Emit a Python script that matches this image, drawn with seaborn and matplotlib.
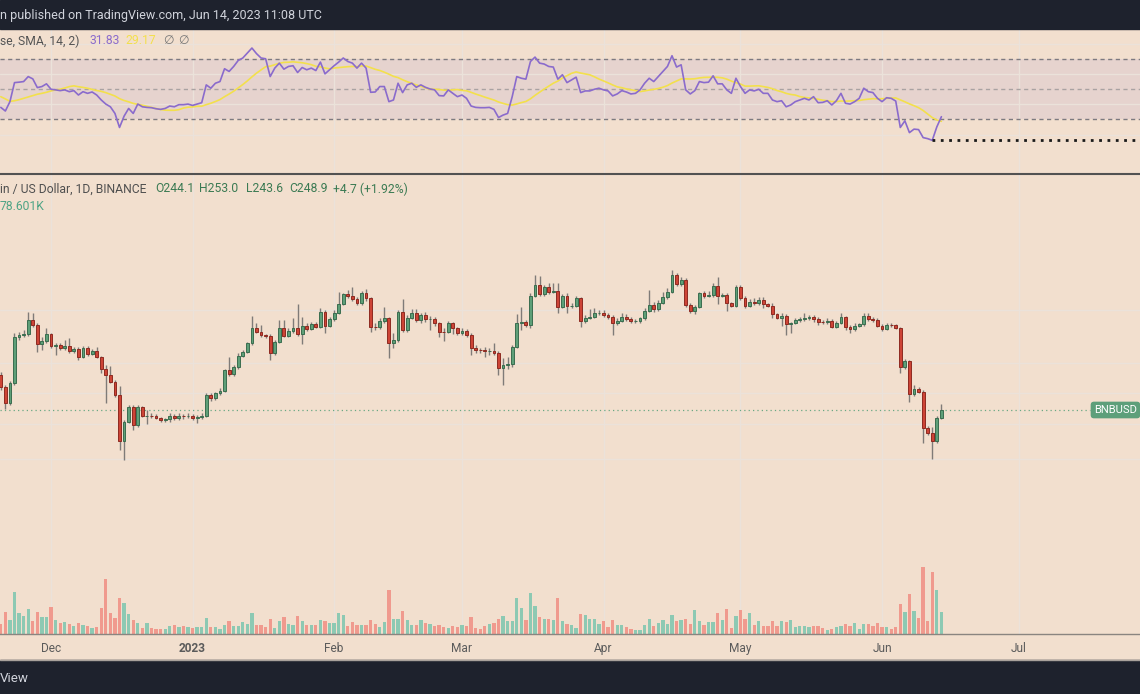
import numpy as np
import pandas as pd
import matplotlib
matplotlib.use("Agg")
import matplotlib.pyplot as plt
import matplotlib.dates as mdates
from matplotlib.lines import Line2D
from matplotlib.patches import Rectangle
from matplotlib.transforms import blended_transform_factory
import seaborn as sns

# BNB / US Dollar, 1D, Binance
start_day = "2022-11-20"
first_open = 271.9
closes = [263.6, 253.5, 266.2, 299.5, 300.7, 301.2, 312.3, 308.4, 294.0, 296.2,
          301.2, 292.5, 293.5, 290.8, 292.5, 289.1, 290.6, 284.2, 290.8, 286.6,
          288.6, 284.7, 276.2, 271.9, 267.3, 258.5, 230.4, 241.7, 250.6, 239.7,
          251.0, 245.3, 245.5, 245.3, 244.1, 242.7, 243.1, 245.3, 243.7, 245.3,
          244.9, 245.1, 243.7, 244.3, 245.3, 258.5, 256.3, 259.6, 261.4, 275.3,
          272.5, 277.1, 285.2, 288.4, 294.5, 305.8, 303.2, 300.7, 300.0, 287.1,
          295.7, 305.8, 300.2, 303.7, 305.8, 301.2, 307.9, 305.5, 309.2, 307.1,
          318.4, 307.9, 312.8, 318.1, 325.2, 333.4, 331.7, 329.3, 325.7, 334.6,
          329.8, 307.1, 306.8, 311.8, 313.6, 295.0, 297.0, 318.4, 304.5, 314.2,
          317.6, 312.3, 316.3, 312.8, 313.1, 309.7, 303.2, 303.0, 309.7, 305.8,
          302.0, 303.7, 300.7, 291.3, 289.6, 289.4, 288.6, 289.1, 287.6, 276.9,
          278.8, 279.3, 292.0, 310.2, 311.0, 308.4, 331.7, 341.4, 333.4, 339.1,
          334.9, 336.3, 323.0, 331.7, 323.5, 323.8, 329.8, 311.8, 314.2, 315.0,
          317.6, 318.1, 316.3, 315.0, 309.7, 311.8, 315.0, 313.1, 311.5, 311.8,
          313.6, 319.8, 324.1, 321.1, 326.3, 330.7, 334.9, 349.9, 342.0, 345.5,
          324.1, 319.5, 322.5, 334.0, 332.0, 332.6, 340.5, 332.0, 332.6, 325.7,
          323.8, 339.1, 330.4, 323.5, 327.1, 325.7, 328.5, 324.9, 323.8, 316.8,
          314.2, 315.8, 308.9, 309.7, 312.3, 312.8, 314.2, 315.0, 313.1, 310.5,
          310.4, 311.8, 307.1, 310.2, 314.5, 306.6, 305.3, 307.9, 308.9, 315.8,
          312.8, 312.6, 307.9, 305.3, 308.4, 308.1, 306.3, 277.1, 281.7, 259.1,
          262.2, 260.7, 238.1, 234.7, 230.4, 244.1, 248.9]
highs = [274.1, 265.1, 268.0, 302.0, 303.2, 304.5, 319.0, 318.1, 309.7, 299.5,
         306.3, 302.5, 294.5, 295.0, 297.0, 298.2, 292.0, 292.0, 292.5, 292.5,
         290.1, 292.0, 285.2, 278.8, 278.1, 268.5, 264.4, 242.7, 252.0, 252.0,
         252.0, 251.4, 248.9, 246.8, 246.4, 244.7, 243.9, 246.8, 246.4, 246.8,
         246.4, 246.8, 246.2, 245.8, 246.8, 260.0, 260.0, 260.7, 262.9, 276.4,
         284.2, 278.8, 287.1, 289.6, 295.7, 315.5, 309.7, 308.4, 301.5, 301.5,
         297.0, 312.3, 312.3, 305.8, 313.6, 325.2, 315.0, 309.7, 311.0, 311.0,
         321.6, 320.3, 315.0, 320.3, 335.5, 334.6, 336.9, 339.1, 331.2, 336.3,
         337.7, 331.2, 309.7, 313.6, 322.5, 315.0, 302.5, 320.3, 329.0, 316.3,
         320.8, 320.8, 318.1, 319.0, 315.5, 315.0, 311.0, 305.8, 311.8, 311.0,
         307.1, 305.8, 305.0, 302.0, 293.3, 291.3, 291.5, 290.8, 294.5, 288.6,
         283.6, 284.7, 293.3, 316.8, 323.0, 312.3, 334.0, 349.9, 349.0, 341.1,
         342.6, 342.6, 342.6, 333.4, 334.0, 325.7, 331.7, 331.2, 316.3, 320.8,
         321.6, 320.3, 320.3, 318.1, 316.3, 313.6, 317.6, 316.8, 315.0, 313.4,
         315.0, 321.6, 336.9, 327.1, 328.5, 335.5, 338.3, 354.3, 351.4, 347.8,
         347.2, 326.3, 324.4, 335.5, 336.3, 336.3, 342.6, 348.4, 334.6, 334.0,
         327.1, 341.1, 341.1, 331.7, 329.0, 329.8, 330.7, 330.7, 326.3, 325.7,
         318.1, 318.1, 317.1, 311.0, 313.6, 315.0, 317.6, 316.3, 316.3, 315.0,
         312.3, 313.6, 312.8, 311.8, 317.6, 315.5, 308.4, 309.7, 310.2, 318.1,
         317.6, 314.5, 313.6, 309.2, 309.7, 309.7, 309.2, 307.1, 282.9, 282.4,
         265.1, 263.5, 261.8, 239.1, 238.7, 245.5, 253.0]
lows = [261.8, 249.3, 252.0, 265.1, 297.0, 299.5, 300.0, 306.6, 288.4, 289.6,
        295.0, 290.8, 285.9, 289.6, 289.6, 287.6, 287.1, 282.4, 283.6, 285.2,
        285.9, 283.6, 273.0, 253.5, 266.2, 257.4, 225.0, 219.4, 240.7, 236.7,
        238.7, 244.7, 240.3, 243.7, 243.1, 241.7, 241.7, 241.7, 242.7, 242.7,
        243.5, 243.7, 242.7, 240.7, 243.1, 244.7, 254.8, 255.3, 258.5, 260.7,
        271.2, 271.2, 275.8, 284.2, 287.1, 293.3, 302.0, 299.5, 298.2, 282.4,
        285.9, 294.5, 299.5, 299.5, 302.5, 300.0, 294.0, 304.0, 304.5, 305.8,
        305.8, 302.0, 306.6, 311.8, 317.1, 324.1, 329.8, 328.0, 324.4, 324.6,
        328.0, 302.7, 304.5, 305.0, 310.2, 283.6, 290.8, 295.7, 303.2, 303.2,
        312.8, 311.0, 310.2, 311.0, 304.5, 307.6, 299.5, 296.5, 302.0, 301.5,
        300.5, 300.7, 299.5, 285.9, 287.1, 287.1, 284.2, 285.9, 285.9, 271.9,
        265.1, 276.4, 277.6, 290.8, 304.5, 306.6, 305.8, 330.7, 331.7, 331.7,
        333.4, 334.0, 318.1, 321.6, 318.1, 321.6, 322.5, 306.6, 309.7, 312.8,
        313.6, 316.3, 314.5, 312.8, 300.7, 308.4, 310.7, 311.8, 309.7, 309.7,
        310.2, 312.3, 318.7, 319.0, 319.8, 325.2, 329.0, 334.0, 340.5, 340.5,
        322.5, 317.6, 317.1, 321.6, 329.8, 330.7, 331.2, 324.9, 330.7, 319.8,
        322.5, 322.5, 328.5, 321.6, 322.5, 324.4, 324.4, 321.6, 322.5, 313.6,
        312.8, 307.6, 300.7, 302.0, 308.9, 311.0, 311.8, 312.3, 311.0, 308.4,
        309.2, 309.2, 305.8, 306.3, 309.2, 304.5, 302.5, 304.0, 307.1, 307.9,
        311.8, 311.0, 306.6, 304.0, 304.5, 307.1, 305.0, 273.0, 275.8, 254.2,
        257.8, 259.6, 229.2, 233.7, 219.8, 228.8, 243.6]
volumes_k = [36, 81, 51, 154, 75, 67, 90, 47, 81, 62,
             62, 99, 50, 41, 45, 35, 30, 41, 34, 29,
             23, 27, 96, 200, 75, 58, 132, 113, 73, 51,
             39, 23, 40, 23, 18, 18, 18, 30, 34, 27,
             29, 25, 23, 27, 24, 59, 25, 27, 19, 34,
             47, 29, 29, 45, 38, 75, 33, 33, 27, 53,
             21, 47, 62, 38, 33, 65, 47, 33, 33, 31,
             51, 47, 41, 41, 75, 69, 29, 44, 33, 33,
             33, 50, 36, 24, 44, 160, 56, 56, 83, 51,
             33, 34, 51, 41, 38, 30, 34, 27, 22, 30,
             25, 33, 28, 61, 22, 19, 30, 35, 41, 54,
             67, 47, 47, 131, 96, 51, 149, 102, 63, 54,
             54, 50, 132, 47, 38, 33, 22, 73, 68, 56,
             56, 38, 47, 25, 50, 33, 33, 25, 17, 16,
             16, 33, 56, 30, 40, 51, 38, 70, 46, 50,
             56, 36, 86, 47, 34, 44, 44, 76, 52, 90,
             22, 65, 88, 54, 75, 34, 47, 30, 30, 47,
             30, 46, 44, 51, 25, 29, 30, 25, 29, 30,
             22, 16, 19, 27, 29, 35, 30, 40, 18, 38,
             38, 30, 40, 27, 27, 17, 27, 109, 81, 146,
             83, 58, 242, 47, 224, 159, 78.601]
rsi = [38.0, 35.6, 41.8, 54.4, 54.7, 55.1, 58.4, 56.9, 51.1, 51.8,
       53.6, 50.0, 49.6, 49.1, 49.6, 48.4, 49.1, 46.2, 48.4, 47.3,
       48.2, 46.2, 42.9, 40.2, 38.4, 34.0, 24.7, 32.2, 37.3, 34.0,
       40.2, 38.4, 38.0, 37.8, 37.1, 36.7, 37.3, 38.9, 38.4, 39.8,
       39.8, 40.2, 39.3, 40.2, 41.1, 52.9, 50.7, 54.0, 55.1, 63.6,
       61.8, 65.1, 69.1, 70.7, 74.0, 77.3, 73.6, 70.7, 70.2, 58.4,
       64.0, 67.3, 63.3, 65.1, 65.6, 61.1, 64.4, 62.9, 64.0, 62.4,
       68.0, 60.2, 62.9, 65.6, 68.0, 70.7, 68.4, 67.3, 64.0, 67.3,
       64.0, 48.0, 48.2, 51.8, 51.8, 41.8, 42.9, 54.0, 47.8, 52.9,
       54.0, 51.3, 52.9, 51.3, 50.2, 49.6, 45.8, 45.6, 49.6, 47.3,
       45.1, 46.2, 44.0, 38.9, 38.0, 37.8, 37.8, 38.0, 36.7, 31.3,
       32.9, 34.0, 45.1, 58.4, 57.3, 56.7, 68.4, 71.3, 67.3, 66.7,
       65.1, 64.7, 56.7, 59.6, 54.4, 56.2, 58.0, 47.8, 48.9, 48.9,
       50.0, 50.7, 49.6, 48.9, 45.6, 46.9, 49.1, 48.2, 46.9, 47.3,
       49.6, 54.0, 57.3, 55.1, 58.4, 61.8, 65.1, 72.2, 64.7, 66.2,
       49.6, 46.9, 49.1, 55.1, 54.4, 54.7, 58.9, 53.6, 53.6, 49.6,
       47.3, 57.3, 51.8, 47.3, 49.6, 48.9, 50.0, 47.3, 47.3, 42.9,
       41.8, 42.4, 38.4, 39.6, 41.8, 42.9, 44.0, 42.9, 45.1, 41.1,
       41.3, 42.4, 39.6, 42.4, 47.3, 40.7, 40.2, 41.8, 44.0, 50.7,
       48.4, 47.8, 44.0, 41.8, 44.4, 44.0, 42.2, 24.7, 29.1, 21.3,
       23.6, 23.3, 18.0, 17.3, 16.2, 25.1, 31.83]
rsi_ma_head = [45.1, 43.6, 42.0, 42.4, 43.1, 44.0, 44.9, 45.8, 46.7, 47.3, 48.0, 48.9, 49.6]
rsi_ma_last = 29.17
change_text = "+4.7 (+1.92%)"
month_labels = ["Dec", "2023", "Feb", "Mar", "Apr", "May", "Jun", "Jul"]
price_grid = [220, 240, 260, 280, 320]
rsi_grid = [80, 60, 40, 20]

bg = "#f2dfce"
grid_c = "#ebe2da"
dark = "#1e222d"
up_fill, up_edge = "#5e9f78", "#3a6d4f"
dn_fill, dn_edge = "#cd4436", "#8e2a21"
vol_up, vol_dn = "#8dc9b3", "#f09a8e"
purple, yellow = "#8a6bcc", "#f3e04c"

sns.set_theme(style="white")
plt.rcParams["font.family"] = ["Roboto", "DejaVu Sans"]

days = pd.date_range(start_day, periods=len(closes), freq="D")
df = pd.DataFrame({"day": days, "open": [first_open] + closes[:-1], "high": highs,
                   "low": lows, "close": closes, "vol": volumes_k, "rsi": rsi})
df["up"] = df["close"] >= df["open"]
ma = df["rsi"].rolling(14).mean()
ma.iloc[:13] = rsi_ma_head
df["rsi_ma"] = ma

W, H = 1140, 694
fig = plt.figure(figsize=(W / 100, H / 100), dpi=100)
fig.patch.set_facecolor(bg)


def box(top, bottom):
    return [0, 1 - bottom / H, 1, (bottom - top) / H]


px_day = 4.566
x0 = mdates.date2num(days[0]) - 0.8 / px_day
x1 = x0 + W / px_day
months = mdates.date2num(pd.date_range("2022-12-01", "2023-07-01", freq="MS"))


def clean(ax):
    ax.set_xlabel("")
    ax.set_ylabel("")
    for s in ax.spines.values():
        s.set_visible(False)


# ---- RSI pane ----
ax_rsi = fig.add_axes(box(29, 174))
ax_rsi.set_facecolor(bg)
ax_rsi.axhspan(30, 70, color="#e6d3ce", lw=0, zorder=0)
for lv in rsi_grid:
    ax_rsi.axhline(lv, color=grid_c, lw=1, zorder=0.5)
for m in months:
    ax_rsi.axvline(m, color=grid_c, lw=1, zorder=0.5)
for lv, c in [(70, "#7d7a80"), (50, "#a9a2a2"), (30, "#7d7a80")]:
    ax_rsi.axhline(lv, color=c, lw=1, ls=(0, (3, 2.5)), zorder=1)
sns.lineplot(data=df, x="day", y="rsi_ma", ax=ax_rsi, color=yellow, lw=1.2)
sns.lineplot(data=df, x="day", y="rsi", ax=ax_rsi, color=purple, lw=1.2)
lo = int(np.argmin(rsi))
ax_rsi.plot([mdates.date2num(days[lo]), x1], [rsi[lo], rsi[lo]], color="#1a1a1a",
            lw=2, ls=(0, (1, 2)), solid_capstyle="butt")
ax_rsi.set_ylim(-6.1, 89.9)
ax_rsi.set_xlim(x0, x1)
ax_rsi.set_xticks([])
ax_rsi.set_yticks([])
clean(ax_rsi)

# ---- price + volume pane ----
ax_vol = fig.add_axes(box(174, 634))
ax_vol.set_facecolor(bg)
ax_price = ax_vol.twinx()
ax_price.set_yscale("log")
ax_price.set_ylim(141.5, 451.4)

for m in months:
    ax_vol.axvline(m, color=grid_c, lw=1, zorder=0)
tr = blended_transform_factory(ax_vol.transAxes, ax_price.transData)
for p in price_grid:
    ax_vol.add_line(Line2D([0, 1], [p, p], transform=tr, color=grid_c, lw=1, zorder=0))

ax_vol.bar(df["day"], df["vol"], width=0.72,
           color=np.where(df["up"], vol_up, vol_dn), lw=0, zorder=1)
ax_vol.set_ylim(0, 1670)

body_lo = df[["open", "close"]].min(axis=1)
body_h = (df["close"] - df["open"]).abs()
ax_price.vlines(df["day"], df["low"], df["high"], color="#7f7b78", lw=1, zorder=2)
ax_price.bar(df["day"], body_h, bottom=body_lo, width=0.62,
             color=np.where(df["up"], up_fill, dn_fill),
             edgecolor=np.where(df["up"], up_edge, dn_edge), lw=0.7, zorder=3)
last = closes[-1]
ax_price.axhline(last, xmin=0, xmax=1090 / W, color="#6aa884", lw=0.9,
                 ls=(0, (1, 2.5)), zorder=1)
ax_price.tick_params(which="both", right=False, labelright=False, left=False)
ax_price.yaxis.set_major_locator(plt.NullLocator())
ax_price.yaxis.set_minor_locator(plt.NullLocator())
clean(ax_price)

ax_vol.set_xlim(x0, x1)
ax_vol.set_yticks([])
ax_vol.set_xticks(months)
ax_vol.set_xticklabels(month_labels)
ax_vol.tick_params(axis="x", length=0, pad=5.5, labelsize=8.6, labelcolor="#5b5b5b")
ax_vol.get_xticklabels()[1].set_fontweight("bold")
clean(ax_vol)
ax_vol.spines["bottom"].set_visible(True)
ax_vol.spines["bottom"].set_color("#8a8580")
ax_vol.spines["bottom"].set_linewidth(1)

# ---- frame pieces ----
fig.add_artist(Rectangle((0, 1 - 29 / H), 1, 29 / H, transform=fig.transFigure,
                         color=dark, zorder=5))
fig.add_artist(Rectangle((0, 0), 1, 34 / H, transform=fig.transFigure,
                         color=dark, zorder=5))
fig.add_artist(Line2D([0, 1], [1 - 174 / H] * 2, color="#525252", lw=1.5, zorder=6))
fig.add_artist(Line2D([0, 1], [1 - 660 / H] * 2, color="#a9a29c", lw=1, zorder=6))


def txt(x, y, s, color, size=8.7, **kw):
    fig.text(x / W, 1 - y / H, s, color=color, fontsize=size, va="center", ha="left",
             zorder=7, **kw)


txt(0, 15, "n published on TradingView.com, Jun 14, 2023 11:08 UTC", "#d1d4dc", size=9)
txt(0, 678, "View", "#d1d4dc", size=9.6)

txt(0, 41, "se, SMA, 14, 2)", "#555555")
txt(89, 41, f"{rsi[-1]:.2f}", purple)
txt(125, 41, f"{rsi_ma_last:.2f}", yellow)
txt(163, 41, "\u2205", "#777777")
txt(178, 41, "\u2205", "#777777")

o, hi, lw_, c = df["open"].iloc[-1], highs[-1], lows[-1], closes[-1]
ohlc_c = "#3b7a53"
txt(0, 189, "in / US Dollar, 1D, BINANCE", "#4f4f4f")
txt(155, 189, f"O{o:.1f}", ohlc_c)
txt(199, 189, f"H{hi:.1f}", ohlc_c)
txt(246, 189, f"L{lw_:.1f}", ohlc_c)
txt(289, 189, f"C{c:.1f}", ohlc_c)
txt(333, 189, change_text, ohlc_c)
txt(0, 207, f"{volumes_k[-1]:.3f}K", "#4ea485")

fig.text(1094 / W, 1 - 410 / H, "BNBUSD", color="white", fontsize=8, va="center",
         ha="left", zorder=7,
         bbox=dict(boxstyle="round,pad=0.3,rounding_size=0.3", fc="#5d9f7a", ec="none"))

fig.savefig("out.png", dpi=100, facecolor=bg)
